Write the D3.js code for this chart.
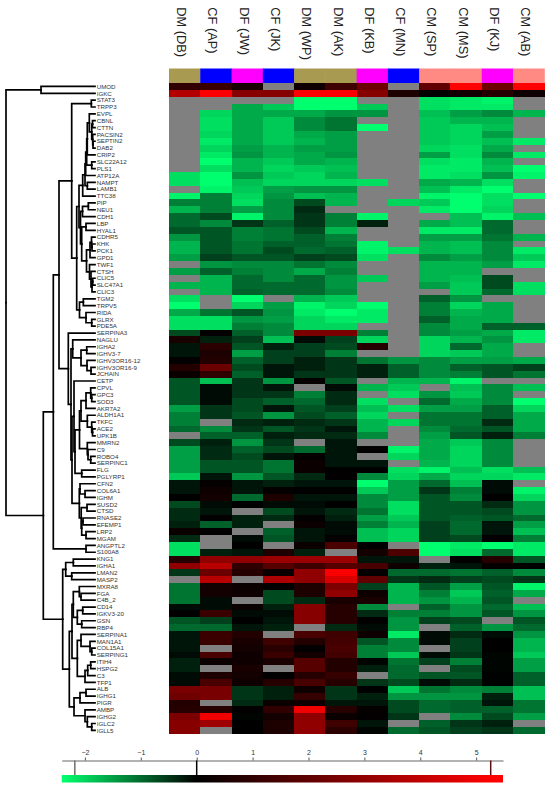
<!DOCTYPE html>
<html>
<head>
<meta charset="utf-8">
<script src="https://cdn.jsdelivr.net/npm/d3@7"></script>
<style>
  html, body { margin: 0; padding: 0; background: #fff; }
  svg { display: block; font-family: "Liberation Sans", Arial, sans-serif; }
</style>
</head>
<body>
<svg id="chart" width="550" height="789"></svg>
<script>
const samples = ["DM (DB)", "CF (AP)", "DF (JW)", "CF (JK)", "DM (WP)", "DM (AK)", "DF (KB)", "CF (MN)", "CM (SP)", "CM (MS)", "DF (KJ)", "CM (AB)"]

const groupColors = { DM: "#a89a50", CF: "#0000ff", DF: "#ff00ff", CM: "#ff8a84" }

const proteins = ["UMOD", "IGKC", "STAT3", "TRPP3", "EVPL", "CBNL", "CTTN", "PACSIN2", "SEPTIN2", "DAB2", "CRIP2", "SLC22A12", "PLS1", "ATP12A", "NAMPT", "LAMB1", "TTC38", "PIP", "NEU1", "CDH1", "LBP", "HYAL1", "CDHR5", "KHK", "PCK1", "GPD1", "TWF1", "CTSH", "CLIC5", "SLC47A1", "CLIC3", "TGM2", "TRPV5", "RIDA", "GLRX", "PDE5A", "SERPINA3", "NAGLU", "IGHA2", "IGHV3-7", "IGHV3OR16-12", "IGHV3OR16-9", "JCHAIN", "CETP", "CPVL", "GPC3", "SOD3", "AKR7A2", "ALDH1A1", "TKFC", "ACE2", "UPK1B", "MMRN2", "C9", "ROBO4", "SERPINC1", "FLG", "PGLYRP1", "CFN2", "COL6A1", "IGHM", "SUSD2", "CTSD", "RNASE2", "EFEMP1", "LRP2", "MGAM", "ANGPTL2", "S100A8", "KNG1", "IGHA1", "LMAN2", "MASP2", "MXRA8", "FGA", "C4B_2", "CD14", "IGKV3-20", "GSN", "RBP4", "SERPINA1", "MAN1A1", "COL15A1", "SERPING1", "ITIH4", "HSPG2", "C3", "TFP1", "ALB", "IGHG1", "PIGR", "AMBP", "IGHG2", "IGLC2", "IGLL5"]

// one row per protein, null = not detected (gray)
const expression = [
  [1.0,1.2,0.5,null,0.3,1.3,2.3,null,2,5.3,2.3,5.3],
  [3.7,5.2,2.8,2.8,5.2,5.2,2.8,0.6,0.05,0.4,0.8,0.3],
  [null,null,null,null,-2.4,-2.4,null,null,-2.1,-2.2,-2.3,null],
  [null,null,-1.6,-1.9,-2.4,-2.4,-1.9,null,-2.1,-2.2,-2.2,null],
  [null,-2.0,-1.6,-1.6,-1.6,-1.4,-1.4,null,-1.8,-1.5,-1.3,-1.7],
  [null,-2.1,-1.6,-1.9,-1.3,-1.1,null,null,-1.9,-1.7,-1.7,null],
  [null,-2.1,-1.6,-1.9,-1.3,-1.1,-2.4,null,-1.9,-2.0,-1.8,null],
  [null,-2.0,-1.6,-1.9,-1.6,-1.5,null,null,-1.9,-2.0,-1.5,null],
  [null,-2.2,-1.6,-1.9,-1.7,-1.5,null,null,-1.9,-2.0,-1.8,-2.2],
  [null,-2.0,-1.5,-1.7,-1.5,-1.5,null,null,-2.0,-2.1,-1.6,null],
  [null,-2.2,-1.4,-1.7,-1.6,-1.4,null,null,-1.5,-2.1,-1.3,-2.2],
  [null,-2.4,-1.7,-1.9,-1.6,-1.7,null,null,-2.1,-2.2,-1.7,null],
  [null,-2.1,-1.7,-2.0,-1.9,-1.8,null,null,-2.2,-2.2,-1.8,-2.4],
  [-2.1,-2.4,-1.4,-1.9,-2.0,-1.7,null,null,-2.2,-2.1,-1.4,-2.3],
  [-2.1,-2.4,-1.8,-2.0,-2.0,-2.0,-2.1,null,-1.6,-1.7,-2.1,null],
  [null,-2.3,-1.9,-1.5,-1.4,-1.4,null,null,-1.8,-2.2,-2.4,null],
  [-2.3,-1.2,-2.0,-1.4,-1.8,-1.7,null,null,-2.3,-2.4,-2.1,-2.4],
  [-1.2,-1.2,-2.1,-1.3,-0.7,-1.7,null,-2.0,-1.9,-2.4,-2.1,null],
  [-1.7,-1.2,-1.5,-1.3,-0.4,null,null,null,-2.2,-2.4,-2.0,null],
  [-1.0,-0.7,-2.3,-1.3,-0.5,-1.2,-2.3,null,null,-1.8,-2.3,-1.8],
  [-1.0,-1.3,-0.5,-0.9,-0.5,-1.2,-0.3,null,-1.6,-1.8,-1.0,null],
  [-0.8,-0.8,-1.2,-1.1,-0.7,-1.7,null,null,-2.2,-2.2,-1.0,null],
  [-1.4,-0.8,-1.2,-1.1,-0.9,-1.2,null,null,-1.5,-1.5,-1.1,-1.7],
  [-1.7,-0.8,-1.1,-0.9,-0.9,-1.1,-2.3,null,-1.7,-1.8,-1.3,null],
  [-1.7,-0.8,-1.1,-0.7,-1.0,-0.9,-2.3,-2.1,-1.7,-1.8,-1.3,-2.2],
  [-1.5,-0.6,-0.8,-0.8,-0.6,-0.7,-2.1,null,-1.3,-1.5,-1.3,-1.9],
  [null,-1.4,-1.3,-1.3,-1.1,-1.3,null,null,-1.7,-1.7,-1.5,-2.2],
  [-1.5,-0.9,-1.2,-1.3,-1.6,-1.2,null,null,-1.7,-1.7,null,null],
  [null,-1.7,-1.0,-1.3,-1.0,-1.4,-1.9,null,-1.7,-1.8,-0.7,null],
  [-1.7,-1.7,-1.0,-1.0,-1.0,-1.4,null,null,-1.5,-1.9,-0.7,-2.1],
  [null,-1.7,-0.9,-1.0,-1.0,-1.3,null,null,null,-1.9,-1.0,-2.1],
  [-2.1,null,-2.4,null,-1.7,-1.9,null,null,-0.9,-1.4,null,null],
  [-2.4,null,-2.0,-1.5,-2.3,-2.0,-2.4,null,-1.2,-2.0,-1.6,null],
  [-1.6,-1.1,-0.8,-1.4,-2.2,-2.4,-2.2,null,-1.2,-1.7,-1.6,null],
  [-2.1,-2.1,-1.4,-1.5,-2.0,-2.2,-2.2,null,-0.9,-1.6,-1.6,null],
  [-2.1,-2.1,-1.2,-1.3,-2.0,-2.0,null,null,-1.3,-1.6,-0.9,-0.9],
  [-0.7,0.1,-0.9,-1.3,2.5,2.5,-1.2,null,-1.3,-1.5,-1.6,-2.2],
  [0.5,-0.3,-0.6,-1.8,-0.1,-0.6,-2.0,null,-2.0,-1.7,-1.4,-2.2],
  [-0.2,0.9,-0.8,-0.3,-0.6,-0.7,0.8,null,-2.0,-1.0,-1.6,null],
  [-0.2,0.6,-1.5,-0.6,-0.6,-1.2,null,null,-2.0,-1.9,-1.6,null],
  [0.05,0.7,-0.9,-0.6,-0.3,-0.5,-1.1,-1.4,-1.3,-1.5,-1.5,-1.6],
  [0.7,2.2,-0.7,-0.2,-0.3,-0.5,-0.3,-0.9,-1.3,-0.9,-0.8,-0.6],
  [0.2,1.0,-0.9,-0.2,-0.5,-0.5,-0.3,-0.9,-1.3,-1.2,-0.8,-1.1],
  [-0.8,-1.8,-0.5,-1.4,0.1,-0.8,null,-1.7,-1.7,-2.3,null,null],
  [-0.8,-0.1,-0.5,-0.2,null,-0.1,-1.7,-1.9,null,-1.8,-1.3,-1.8],
  [-0.8,-0.1,-0.5,-0.5,-1.2,-0.4,null,-2.1,-1.4,-1.9,-1.3,null],
  [-0.8,-0.1,-0.7,-0.9,-1.0,-0.4,-2.1,null,-1.0,-1.6,-1.3,-2.4],
  [-1.5,-0.5,-0.7,-0.2,-0.8,-0.6,-1.8,-2.1,-1.5,-1.5,-0.9,-2.0],
  [-1.2,-0.5,-0.8,-1.4,-0.7,-0.9,-2.0,null,-1.1,-1.1,-0.9,-1.6],
  [-1.2,null,-0.4,-0.3,-0.4,-0.5,-1.7,-2.0,-1.1,-1.1,-0.4,-1.6],
  [-1.0,-1.3,-0.5,-0.8,-0.5,-0.2,-1.7,null,-1.3,-1.0,-0.8,-1.6],
  [null,-0.9,-0.9,-0.3,-0.4,-0.4,-1.3,null,-1.5,-0.8,-0.3,-1.2],
  [-0.7,-0.3,-1.4,-0.5,null,-0.2,null,null,-1.6,-1.9,-1.3,null],
  [-1.5,-0.4,-0.9,-0.7,-1.0,-0.2,0.05,-2.3,-1.6,-2.0,-1.3,null],
  [-1.5,-0.4,-0.7,-0.2,0.1,-0.2,null,-2.0,-1.6,-2.0,-1.3,null],
  [-1.5,-0.8,-0.8,-1.1,0.2,-0.2,-0.2,null,-1.7,-2.0,-1.3,null],
  [-1.5,-0.8,-0.8,-1.1,0.2,0.02,0.02,-2.1,-2.3,-1.8,-2.1,-1.8],
  [-1.9,-0.2,-1.4,-0.8,-0.4,0.05,-1.3,-2.0,-1.6,-2.0,-2.0,-2.2],
  [-0.2,0.1,-0.2,-0.3,-0.2,-0.2,-2.4,-1.5,-1.0,-1.8,-0.1,null],
  [-0.2,0.3,-0.2,0.1,0.02,0.02,-1.9,-1.5,-0.5,-1.2,-0.1,-2.3],
  [0.02,0.4,-1.0,0.6,-0.2,-0.2,-1.3,-1.5,-0.8,-1.3,0.02,-2.0],
  [-0.7,-0.1,0.02,-0.1,-0.1,0.02,-1.3,-2.1,-0.8,-0.8,-0.4,-1.4],
  [-0.4,-0.2,null,-0.7,-0.2,-0.4,-1.1,-2.1,-0.8,-0.8,-0.7,-1.4],
  [-0.4,0.05,-0.3,-0.4,0.05,-0.3,-1.5,-1.9,-0.8,-0.9,-0.8,-1.0],
  [-0.3,-0.9,-0.3,null,0.2,-0.1,-1.2,-1.7,-0.6,-1.0,-0.2,-1.5],
  [0.2,0.05,null,-0.9,-0.2,-0.1,-1.8,-2.0,-0.6,-1.0,-0.2,-1.8],
  [-0.4,null,-0.1,-0.8,-0.2,0.05,-1.8,-2.0,-0.6,-0.7,0.05,-1.2],
  [-2.1,null,0.02,null,0.2,1.5,0.02,null,-2.4,-2.2,-2.4,-2.2],
  [-2.1,-0.3,-0.2,0.6,-0.3,null,0.4,1.6,-2.4,-2.1,-1.0,-2.2],
  [0.8,3.0,3.0,3.2,3.2,3.2,-0.2,-0.2,null,0.02,0.8,-0.8],
  [3.0,3.8,1.0,1.8,1.3,1.8,1.5,0.3,-0.3,-0.2,0.1,0.02],
  [-0.5,2.2,0.8,0.2,3.0,5.2,0.05,-1.0,-1.0,-1.1,-0.9,-1.3],
  [null,3.8,null,3.6,3.0,4.5,2.0,-0.5,-0.4,-0.6,-0.7,-0.5],
  [-1.1,0.4,0.2,0.05,0.6,2.6,-0.6,-1.7,-0.8,-1.5,-0.8,-2.3],
  [-1.1,0.4,0.3,-0.7,0.6,3.0,0.3,-1.7,-1.2,-1.9,-0.9,-1.6],
  [-1.1,-0.1,null,-0.7,-0.4,0.5,0.5,-1.7,-1.4,-1.7,-0.8,null],
  [-0.1,-0.1,0.2,-0.3,2.8,0.8,-1.3,null,-0.9,-1.4,-1.0,-1.8],
  [0.05,1.2,-0.1,-0.1,2.8,0.8,-0.4,-1.2,-1.2,-1.4,-0.8,-1.4],
  [-0.8,-0.6,0.02,-0.2,2.8,0.8,0.02,-1.4,-0.6,-0.7,null,-0.8],
  [-1.0,-1.0,-0.2,-0.3,null,-0.4,-0.1,-1.4,null,-0.9,-1.4,-1.0],
  [-0.2,1.2,0.7,null,1.5,1.3,0.3,-2.2,-0.1,-0.4,-0.1,-1.4],
  [-0.2,1.2,0.5,1.3,0.7,1.4,-0.8,-1.3,-0.1,-0.6,0.02,-1.7],
  [-0.2,null,0.4,0.9,0.05,1.5,-1.2,-1.3,null,-0.6,0.02,-1.7],
  [-0.1,1.5,0.3,1.2,0.4,1.4,-1.2,-1.9,-0.1,-0.5,-0.05,-1.9],
  [-0.3,0.2,0.3,0.5,1.8,0.7,-0.05,-1.1,-0.6,-1.2,-0.05,-1.5],
  [-0.3,null,0.5,null,1.8,0.7,-0.3,-1.0,null,-0.7,-0.05,-1.5],
  [-0.1,0.6,0.4,0.02,0.8,1.1,null,-1.0,-0.8,-0.8,-0.02,-0.9],
  [-0.1,1.5,0.3,0.8,1.5,0.8,-0.5,-0.7,-0.1,-0.4,-0.02,-0.9],
  [2.5,2.5,-0.5,-0.3,0.3,-0.5,0.02,-1.9,-1.1,-1.3,-1.2,-1.8],
  [2.3,2.5,-0.5,-0.3,1.1,-0.5,-0.3,-1.4,-1.4,-1.4,-0.3,-1.8],
  [0.7,null,-0.4,0.2,0.3,-0.2,-0.2,-0.7,-1.0,-0.9,-0.2,-1.1],
  [0.8,0.8,0.05,1.0,5.0,0.8,0.1,-0.7,-1.0,-0.9,-0.9,-1.1],
  [2.6,5.0,-0.05,0.4,3.0,0.2,0.05,-0.5,null,-1.3,-0.7,-1.5],
  [2.8,3.3,0.02,0.6,3.0,1.3,-0.2,null,-0.9,-0.5,-0.3,null],
  [2.8,null,0.02,0.6,3.0,0.9,-0.05,-1.0,-0.8,-0.6,-0.5,-1.0]
]

// [merge distance, child, child], leaves are protein names
const clusterEvpl = [7.7, [5.7, "EVPL", [3.3, [2.5, "CBNL", "CTTN"], [2.3, "PACSIN2", [2, "SEPTIN2", "DAB2"]]]], "CRIP2"]
const clusterTtc = [12.3, [10, [9.3, [8.3, clusterEvpl, [3.3, "SLC22A12", "PLS1"]], "ATP12A"], [7.7, "NAMPT", "LAMB1"]], "TTC38"]
const clusterPip = [12.5, [6.7, "PIP", "NEU1"], "CDH1"]
const clusterKhk = [5, [3.5, "CDHR5", [3, "KHK", "PCK1"]], "GPD1"]
const clusterTwf = [5.5, "TWF1", [4, "CTSH", [3, [2.3, "CLIC5", "SLC47A1"], "CLIC3"]]]
const clusterLbp = [13.3, [9, "LBP", "HYAL1"], [8.5, clusterKhk, clusterTwf]]
const clusterTgm = [15.5, [11.7, "TGM2", "TRPV5"], [9, "RIDA", [3.3, "GLRX", "PDE5A"]]]
const clusterEpithelial = [18.3, [16, clusterTtc, [14.5, clusterPip, clusterLbp]], clusterTgm]

const clusterIg = [22.3, "NAGLU", [14, [8.3, "IGHA2", "IGHV3-7"], [8, "IGHV3OR16-12", [4, "IGHV3OR16-9", "JCHAIN"]]]]
const clusterCpvl = [14, [9, [4.3, "CPVL", [3.3, "GPC3", "SOD3"]], "AKR7A2"], [7.7, "ALDH1A1", [3.3, "TKFC", [2.5, "ACE2", "UPK1B"]]]]
const clusterMmrn = [7.7, "MMRN2", [7, "C9", [4.3, "ROBO4", "SERPINC1"]]]
const clusterCetp = [21, "CETP", [20, [15.5, clusterCpvl, clusterMmrn], [13.3, "FLG", "PGLYRP1"]]]
const clusterCfn = [15.7, [15, "CFN2", [10, "COL6A1", "IGHM"]], [13.8, [8, "SUSD2", "CTSD"], [13.3, [12, "RNASE2", "EFEMP1"], [9, "LRP2", "MGAM"]]]]

const clusterKng = [29.3, [21.7, "KNG1", "IGHA1"], [23.3, "LMAN2", "MASP2"]]
const clusterMx = [21.7, [15.7, "MXRA8", [14, "FGA", "C4B_2"]], [17.7, [12.3, "CD14", "IGKV3-20"], [13.3, "GSN", "RBP4"]]]
const clusterSerpin = [17.7, [14, "SERPINA1", [5, "MAN1A1", [3.3, "COL15A1", "SERPING1"]]], [10, [7.3, [4.3, "ITIH4", "HSPG2"], "C3"], "TFP1"]]
const clusterAlb = [21, [15, [9, "ALB", "IGHG1"], "PIGR"], [10, "AMBP", [7.7, "IGHG2", [3.3, "IGLC2", "IGLL5"]]]]

const proteinTree = [89,
  [54, "UMOD", "IGKC"],
  [51.7,
    [41.7,
      [36,
        [23.3, [3.7, "STAT3", "TRPP3"], clusterEpithelial],
        [26.7, "SERPINA3", [24, clusterIg, [23, clusterCetp, clusterCfn]]]],
      [9, "ANGPTL2", "S100A8"]],
    [32.3, clusterKng, [25.7, [23, clusterMx, clusterSerpin], clusterAlb]]]]

const legendTicks = [-2, -1, 0, 1, 2, 3, 4, 5]
const legendMarks = [
  { value: -2.18, color: "#6e6e6e" },
  { value: 0, color: "#000000" },
  { value: 5.26, color: "#5a1010" }
]

const svg = d3.select("#chart")

const xCol = d3.scaleBand().domain(samples).range([169, 544.3])
const yRow = d3.scaleBand().domain(proteins).range([83, 733.75])
const xDist = d3.scaleLinear().domain([0, 90]).range([95, 5])

const color = d3.scaleLinear().domain([-2.4, 0, 5.3]).range(["#00ff6e", "#000000", "#ff0000"]).clamp(true)

// sample names
svg.append("g").selectAll("text")
   .data(samples)
   .join("text")
   .attr("transform", d => "translate(" + (xCol(d) + xCol.bandwidth() / 2 - 7.5) + ",7.3) rotate(90)")
   .attr("font-size", 12.8)
   .attr("fill", "#222")
   .text(d => d)

// group colour strip
svg.append("g").selectAll("rect")
   .data(samples)
   .join("rect")
   .attr("x", d => xCol(d))
   .attr("y", 68.5)
   .attr("width", xCol.bandwidth() + 0.5)
   .attr("height", 14.5)
   .attr("fill", d => groupColors[d.slice(0, 2)])

// heatmap cells
const cells = expression.flatMap((row, i) => row.map((v, j) => ({ protein: proteins[i], sample: samples[j], value: v })))

svg.append("g").attr("shape-rendering", "crispEdges").selectAll("rect")
   .data(cells)
   .join("rect")
   .attr("x", d => xCol(d.sample))
   .attr("y", d => yRow(d.protein))
   .attr("width", xCol.bandwidth() + 0.5)
   .attr("height", yRow.bandwidth() + 0.5)
   .attr("fill", d => d.value === null ? "#808080" : color(d.value))

// protein names
svg.append("g").selectAll("text")
   .data(proteins)
   .join("text")
   .attr("x", 96.7)
   .attr("y", d => yRow(d) + yRow.bandwidth() / 2)
   .attr("dy", "0.36em")
   .attr("font-size", 6.2)
   .attr("fill", "#333")
   .text(d => d)

// dendrogram
const root = d3.hierarchy(proteinTree, d => Array.isArray(d) ? d.slice(1) : null)

root.eachAfter(node => {
  if (node.children) {
    node.px = xDist(node.data[0])
    node.py = d3.mean(node.children, c => c.py)
  } else {
    node.px = xDist(0)
    node.py = yRow(node.data) + yRow.bandwidth() / 2
  }
})

svg.append("g").selectAll("path")
   .data(root.links())
   .join("path")
   .attr("d", d => "M" + d.source.px + "," + d.source.py + "V" + d.target.py + "H" + d.target.px)
   .attr("fill", "none")
   .attr("stroke", "#000")
   .attr("stroke-width", 1.7)
   .attr("stroke-linecap", "square")

// colour key
const xLegend = d3.scaleLinear().domain([-2.415, 5.48]).range([61.7, 503])

const defs = svg.append("defs")
const grad = defs.append("linearGradient").attr("id", "keyGrad")

grad.selectAll("stop")
    .data([-2.4, 0, 5.3])
    .join("stop")
    .attr("offset", d => (xLegend(d) - 61.7) / (503 - 61.7))
    .attr("stop-color", d => color(d))

svg.append("rect")
   .attr("x", xLegend.range()[0])
   .attr("y", 775)
   .attr("width", xLegend.range()[1] - xLegend.range()[0])
   .attr("height", 7.5)
   .attr("fill", "url(#keyGrad)")

const keyAxis = svg.append("g")
   .attr("transform", "translate(0,760.5)")
   .call(d3.axisTop(xLegend).tickValues(legendTicks).tickSize(3).tickSizeOuter(0).tickFormat(d3.format("d")))

keyAxis.selectAll("text").attr("font-family", "Liberation Sans").attr("font-size", 7).attr("fill", "#333")
keyAxis.selectAll("line").attr("stroke", "#555")
keyAxis.select(".domain").attr("stroke", "#666")

svg.append("g").selectAll("line")
   .data(legendMarks)
   .join("line")
   .attr("x1", d => xLegend(d.value))
   .attr("x2", d => xLegend(d.value))
   .attr("y1", 760.5)
   .attr("y2", 775)
   .attr("stroke", d => d.color)
   .attr("stroke-width", 1.5)
</script>
</body>
</html>
